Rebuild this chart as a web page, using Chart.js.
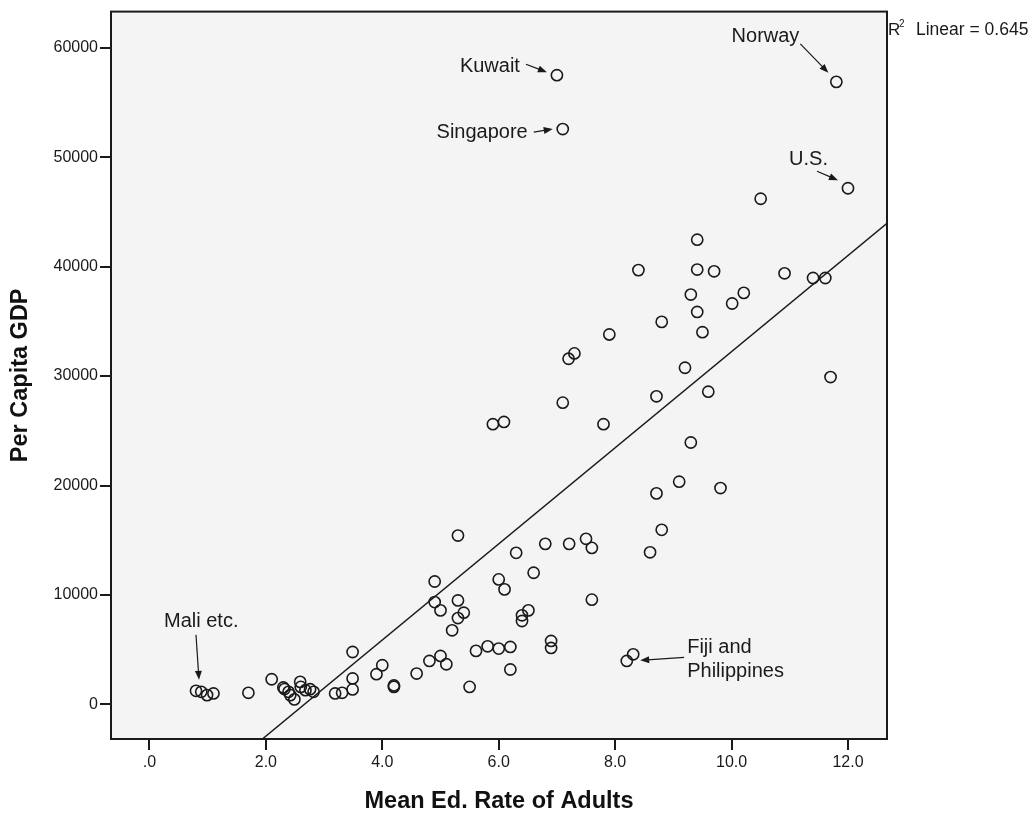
<!DOCTYPE html>
<html>
<head>
<meta charset="utf-8">
<title>Per Capita GDP vs Mean Ed. Rate of Adults</title>
<script src="https://cdn.jsdelivr.net/npm/chart.js@4.4.1/dist/chart.umd.min.js"></script>
<style>
    html, body { margin: 0; padding: 0; background: #fff; }
    #wrap { width: 1035px; height: 816px; }
</style>
</head>
<body>
<div id="wrap"><canvas id="gdpChart" width="1035" height="816"></canvas></div>
<script>
// country values: mean years of schooling of adults vs per capita GDP
const eduRate = [
    0.80, 0.89, 0.99, 1.10, 1.70, 2.10,
    2.30, 2.32, 2.39, 2.42, 2.49, 2.59, 2.60, 2.68, 2.76, 2.82,
    3.19, 3.31, 3.49, 3.49, 3.49, 3.90, 4.00, 4.20, 4.20,
    4.59, 4.81, 4.90, 4.90, 5.00, 5.00, 5.10,
    5.20, 5.30, 5.30, 5.30, 5.40, 5.50,
    5.61, 5.81, 6.00, 6.20, 6.20,
    6.00, 6.10, 6.30, 6.40, 6.40, 6.51, 6.60,
    6.80, 6.90, 6.90, 7.21, 7.50, 7.60, 7.60,
    8.20, 8.31,
    8.60, 8.80, 8.71, 9.10, 9.81, 9.30,
    5.90, 6.09, 7.10, 7.80,
    7.20, 7.30, 7.90, 8.71, 9.60, 9.20,
    8.80, 9.50, 9.41, 9.30, 10.01, 10.21,
    8.40, 9.41, 9.70, 10.91, 11.40, 11.61,
    9.41, 10.50, 12.00, 11.70,
    7.00, 7.10, 11.80
];
const gdpPerCapita = [
    1240, 1150, 850, 1000, 1060, 2300,
    1550, 1400, 1150, 850, 460, 2060, 1600, 1300, 1390, 1150,
    1000, 1060, 4790, 2370, 1370, 2760, 3580, 1730, 1600,
    2820, 3970, 11230, 9350, 8590, 4430, 3670,
    6770, 15430, 9500, 7890, 8380, 1600,
    4890, 5310, 5100, 5250, 3190,
    11420, 10510, 13850, 8140, 7620, 8590, 12030,
    14670, 5800, 5160, 14670, 15130, 14300, 9570,
    3970, 4580,
    13900, 15950, 19280, 20350, 19770, 23930,
    25600, 25810, 27570, 25600,
    31580, 32070, 33800, 28150, 28570, 30760,
    34950, 34010, 35860, 37450, 36630, 37600,
    39680, 39730, 39570, 39390, 38960, 38960,
    42460, 46200, 47160, 29910,
    57490, 52570, 56880
];

// fit line ends, where it meets the frame
const fitX = [1.94, 12.67];
const fitY = [-3160, 43950];
const rSquared = '0.645';

const xTicks = [0, 2, 4, 6, 8, 10, 12];
const yTicks = [0, 10000, 20000, 30000, 40000, 50000, 60000];

// labelled countries: which point, plus where the label and arrow sit
const callouts = [
    { lines: ['Kuwait'], at: 91, align: 'right', tx: -37, ty: -9, from: [-31, -11], to: [-10, -3] },
    { lines: ['Singapore'], at: 92, align: 'right', tx: -35, ty: 3, from: [-29, 3], to: [-10, 0] },
    { lines: ['Norway'], at: 93, align: 'right', tx: -37, ty: -45, from: [-36, -38], to: [-8, -9] },
    { lines: ['U.S.'], at: 89, align: 'right', tx: -20, ty: -29, from: [-31, -17], to: [-10, -8] },
    { lines: ['Mali etc.'], at: 0, align: 'left', tx: -32, ty: -69, from: [0, -56], to: [3, -11] },
    { lines: ['Fiji and', 'Philippines'], at: 58, align: 'left', tx: 54, ty: -7, from: [51, 3], to: [7, 6] }
];

const ink = '#1a1a1a';
const baseFont = '"Liberation Sans", Arial, Helvetica, sans-serif';

const points = eduRate.map((x, i) => ({ x: x, y: gdpPerCapita[i] }));
const fitLine = fitX.map((x, i) => ({ x: x, y: fitY[i] }));

function arrow(ctx, x1, y1, x2, y2) {
    const a = Math.atan2(y2 - y1, x2 - x1);
    const len = 9, half = 3.5;
    ctx.beginPath();
    ctx.moveTo(x1, y1);
    ctx.lineTo(x2 - Math.cos(a) * len * 0.8, y2 - Math.sin(a) * len * 0.8);
    ctx.stroke();
    ctx.beginPath();
    ctx.moveTo(x2, y2);
    ctx.lineTo(x2 - Math.cos(a) * len + Math.sin(a) * half, y2 - Math.sin(a) * len - Math.cos(a) * half);
    ctx.lineTo(x2 - Math.cos(a) * len - Math.sin(a) * half, y2 - Math.sin(a) * len + Math.cos(a) * half);
    ctx.closePath();
    ctx.fill();
}

const plotFrame = {
    id: 'plotFrame',
    beforeDraw(chart) {
        const { ctx, chartArea: a } = chart;
        ctx.save();
        ctx.fillStyle = '#fff';
        ctx.fillRect(0, 0, chart.width, chart.height);
        ctx.fillStyle = '#f4f4f4';
        ctx.fillRect(a.left, a.top, a.right - a.left, a.bottom - a.top);
        ctx.restore();
    },
    afterDraw(chart) {
        const { ctx, chartArea: a, scales } = chart;
        ctx.save();
        ctx.strokeStyle = ink;
        ctx.lineWidth = 2;
        ctx.strokeRect(a.left, a.top, a.right - a.left, a.bottom - a.top);

        // callout labels with arrows
        ctx.fillStyle = ink;
        ctx.strokeStyle = ink;
        ctx.lineWidth = 1.2;
        ctx.font = '20px ' + baseFont;
        ctx.textBaseline = 'middle';
        callouts.forEach(c => {
            const px = scales.x.getPixelForValue(eduRate[c.at]);
            const py = scales.y.getPixelForValue(gdpPerCapita[c.at]);
            ctx.textAlign = c.align;
            c.lines.forEach((t, k) => ctx.fillText(t, px + c.tx, py + c.ty + k * 24));
            arrow(ctx, px + c.from[0], py + c.from[1], px + c.to[0], py + c.to[1]);
        });

        // fit statistic, right of the frame
        ctx.textAlign = 'left';
        ctx.font = '17px ' + baseFont;
        ctx.fillText('R', a.right + 1, 30);
        ctx.font = '10px ' + baseFont;
        ctx.fillText('2', a.right + 12, 24);
        ctx.font = '17.5px ' + baseFont;
        ctx.fillText('Linear = ' + rSquared, a.right + 29, 30);
        ctx.restore();
    }
};

new Chart(document.getElementById('gdpChart'), {
    type: 'scatter',
    data: {
        datasets: [
            {
                label: 'Per Capita GDP',
                data: points,
                pointStyle: 'circle',
                pointRadius: 5.6,
                borderWidth: 1.6,
                borderColor: ink,
                backgroundColor: 'rgba(0,0,0,0)',
                order: 1
            },
            {
                type: 'line',
                label: 'Linear fit',
                data: fitLine,
                borderColor: ink,
                borderWidth: 1.5,
                pointRadius: 0,
                fill: false,
                order: 2
            }
        ]
    },
    options: {
        responsive: false,
        animation: false,
        layout: { padding: { top: 10, right: 148, left: 0, bottom: 0 } },
        plugins: { legend: { display: false }, tooltip: { enabled: false } },
        scales: {
            x: {
                type: 'linear',
                min: -0.66,
                max: 12.67,
                afterBuildTicks: s => { s.ticks = xTicks.map(v => ({ value: v })); },
                afterFit: s => { s.height = 77; },
                ticks: {
                    callback: v => v === 0 ? '.0' : v.toFixed(1),
                    font: { size: 16, family: baseFont },
                    color: ink,
                    padding: 3,
                    maxRotation: 0
                },
                grid: { drawOnChartArea: false, drawTicks: true, tickLength: 11, color: ink, lineWidth: 2 },
                border: { display: true, color: ink, width: 2 },
                title: {
                    display: true,
                    text: 'Mean Ed. Rate of Adults',
                    font: { size: 23.5, weight: 'bold', family: baseFont },
                    color: '#111',
                    padding: { top: 0, bottom: 0 }
                }
            },
            y: {
                type: 'linear',
                min: -3160,
                max: 63300,
                afterBuildTicks: s => { s.ticks = yTicks.map(v => ({ value: v })); },
                afterFit: s => { s.width = 111; },
                ticks: {
                    callback: v => String(v),
                    font: { size: 16, family: baseFont },
                    color: ink,
                    padding: 2
                },
                grid: { drawOnChartArea: false, drawTicks: true, tickLength: 11, color: ink, lineWidth: 2 },
                border: { display: true, color: ink, width: 2 },
                title: {
                    display: true,
                    text: 'Per Capita GDP',
                    font: { size: 23.5, weight: 'bold', family: baseFont },
                    color: '#111',
                    padding: { top: 6, bottom: 0 }
                }
            }
        }
    },
    plugins: [plotFrame]
});
</script>
</body>
</html>
